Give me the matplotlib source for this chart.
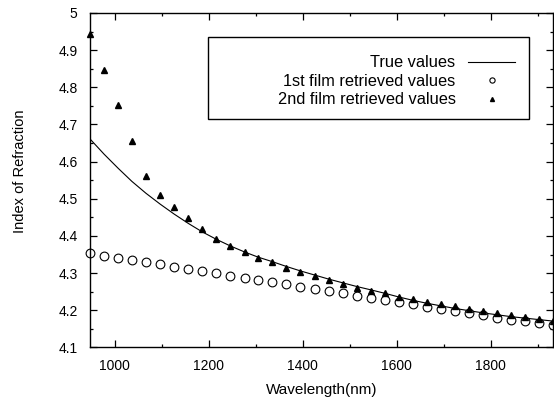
import matplotlib
matplotlib.use("Agg")
import matplotlib.pyplot as plt
from matplotlib.patches import Rectangle
from matplotlib.ticker import MultipleLocator

plt.rcParams['font.family'] = ['Liberation Sans', 'DejaVu Sans']

# wavelengths (nm)
wavelength = [947, 977, 1007, 1036, 1066, 1096, 1126, 1156, 1186, 1216,
              1246, 1276, 1305, 1335, 1365, 1395, 1425, 1455, 1485, 1515,
              1545, 1574, 1604, 1634, 1664, 1694, 1724, 1754, 1784, 1814,
              1843, 1873, 1903, 1933]

true_n = [4.661, 4.620, 4.582, 4.547, 4.515, 4.486, 4.459, 4.434, 4.411, 4.391,
          4.373, 4.357, 4.343, 4.331, 4.318, 4.306, 4.295, 4.284, 4.274, 4.264,
          4.255, 4.246, 4.236, 4.227, 4.219, 4.212, 4.205, 4.199, 4.193, 4.188,
          4.183, 4.179, 4.175, 4.171]

film1_n = [4.353, 4.347, 4.342, 4.335, 4.329, 4.324, 4.317, 4.311, 4.306, 4.300,
           4.293, 4.288, 4.282, 4.276, 4.270, 4.264, 4.258, 4.253, 4.247, 4.239,
           4.233, 4.227, 4.222, 4.216, 4.210, 4.204, 4.199, 4.192, 4.187, 4.180,
           4.175, 4.170, 4.165, 4.160]

film2_n = [4.943, 4.847, 4.752, 4.656, 4.562, 4.510, 4.479, 4.449, 4.419, 4.393,
           4.374, 4.358, 4.342, 4.329, 4.315, 4.304, 4.292, 4.281, 4.271, 4.261,
           4.253, 4.246, 4.237, 4.230, 4.222, 4.216, 4.212, 4.204, 4.199, 4.194,
           4.188, 4.183, 4.177, 4.171]

fig = plt.figure(figsize=(5.54, 4.05), dpi=100)
ax = fig.add_axes([0.1625, 0.142, 0.836, 0.826])

ax.plot(wavelength, true_n, color='black', lw=0.8, label='True values')
ax.plot(wavelength, film1_n, 'o', mfc='white', mec='black', mew=0.8, ms=6.3,
        clip_on=False, label='1st film retrieved values')
ax.plot(wavelength, film2_n, '^', color='black', ms=4.8,
        clip_on=False, label='2nd film retrieved values')

ax.set_xlim(947, 1933)
ax.set_ylim(4.1, 5.0)
ax.xaxis.set_major_locator(MultipleLocator(200))
ax.xaxis.set_minor_locator(MultipleLocator(100))
ax.yaxis.set_major_locator(MultipleLocator(0.1))
ax.yaxis.set_minor_locator(MultipleLocator(0.05))
ax.yaxis.set_major_formatter(plt.FuncFormatter(lambda v, p: ('%.1f' % v).rstrip('0').rstrip('.')))

ax.tick_params(which='both', direction='in', top=True, right=True, labelsize=10)
ax.tick_params(which='major', length=5, width=0.9)
ax.tick_params(which='minor', length=2.5, width=0.9)
ax.tick_params(axis='y', pad=9)
ax.tick_params(axis='x', pad=8)
for s in ax.spines.values():
    s.set_linewidth(1.0)

ax.set_xlabel('Wavelength(nm)', fontsize=11)
ax.set_ylabel('Index of Refraction', fontsize=10.5)
ax.xaxis.set_label_coords(0.5, -0.105)
ax.yaxis.set_label_coords(-0.136, 0.528)

# legend frame, gnuplot style
ax.add_patch(Rectangle((0.2549, 0.682), 0.6933, 0.245, transform=ax.transAxes,
                       fill=False, edgecolor='black', lw=1.0, zorder=5))
leg = ax.legend(loc='upper right', bbox_to_anchor=(0.936, 0.898), frameon=False,
                markerfirst=False, fontsize=11.8, handlelength=2.9, handletextpad=0.75,
                labelspacing=0.22, markerscale=0.6, borderpad=0)

fig.savefig('out.png', dpi=100)
